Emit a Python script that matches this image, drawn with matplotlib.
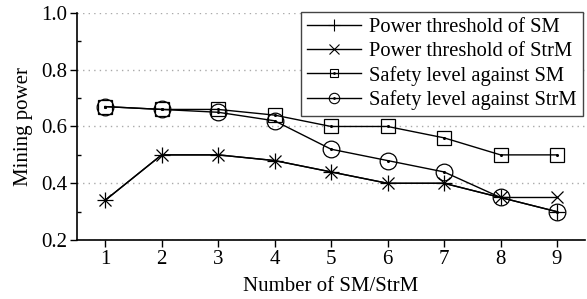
import matplotlib
matplotlib.use("Agg")
import matplotlib.pyplot as plt
from matplotlib.legend_handler import HandlerTuple
from matplotlib.lines import Line2D
from matplotlib.ticker import MultipleLocator

plt.rcParams['font.family'] = ['Liberation Serif', 'DejaVu Serif']

# data
n = [1, 2, 3, 4, 5, 6, 7, 8, 9]
thr_sm = [0.34, 0.50, 0.50, 0.48, 0.44, 0.40, 0.40, 0.35, 0.30]
thr_strm = [0.34, 0.50, 0.50, 0.48, 0.44, 0.40, 0.40, 0.35, 0.35]
safe_sm = [0.67, 0.66, 0.66, 0.64, 0.60, 0.60, 0.56, 0.50, 0.50]
safe_strm = [0.67, 0.66, 0.65, 0.62, 0.52, 0.48, 0.44, 0.35, 0.30]
labels = ["Power threshold of SM", "Power threshold of StrM",
          "Safety level against SM", "Safety level against StrM"]

fig = plt.figure(figsize=(5.87, 2.99), dpi=100)
ax = fig.add_axes([0.131, 0.197, 0.866, 0.760])

lw = 1.0
ax.plot(n, thr_sm, color='black', lw=lw, marker='+', ms=11, mew=0.9)
ax.plot(n, thr_strm, color='black', lw=lw, marker='x', ms=9, mew=0.9)
ax.plot(n, safe_sm, color='black', lw=lw, marker='s', ms=9.5, mew=0.9,
        mfc='none')
ax.plot(n, safe_strm, color='black', lw=lw, marker='o', ms=12, mew=0.9,
        mfc='none')
# little centre dots of the open markers
ax.plot(n, safe_sm, ls='none', marker='o', ms=1.2, color='black')
ax.plot(n, safe_strm, ls='none', marker='o', ms=1.2, color='black')

ax.set_xlim(0.5, 9.5)
ax.set_ylim(0.2, 1.0)
ax.set_xticks(n)
ax.yaxis.set_major_locator(MultipleLocator(0.2))
ax.yaxis.set_minor_locator(MultipleLocator(0.1))
ax.yaxis.set_major_formatter(lambda v, p: f"{v:.1f}")
ax.tick_params(axis='both', labelsize=15, direction='out', length=5, width=1,
               pad=2)
ax.tick_params(axis='y', which='minor', direction='in', length=3, width=1)
ax.grid(axis='y', which='major', color='#aaaaaa', ls=(0, (1, 3)), lw=1)

for s in ['top', 'right']:
    ax.spines[s].set_visible(False)
for s in ['left', 'bottom']:
    ax.spines[s].set_linewidth(1.2)

ax.set_xlabel("Number of SM/StrM", fontsize=15, labelpad=6)
ax.set_ylabel("Mining power", fontsize=15, labelpad=6)

# legend proxies with smaller markers, like the reference
kw = dict(color='black', lw=lw, mew=0.8)
p1 = Line2D([], [], marker='+', ms=8, **kw)
p2 = Line2D([], [], marker='x', ms=6.5, **kw)
p3 = Line2D([], [], marker='s', ms=6, mfc='none', **kw)
p4 = Line2D([], [], marker='o', ms=7.5, mfc='none', **kw)
dot = Line2D([], [], ls='none', marker='o', ms=1, color='black')
leg = ax.legend([p1, p2, (p3, dot), (p4, dot)], labels,
                handler_map={tuple: HandlerTuple(ndivide=1)},
                loc='upper right', bbox_to_anchor=(0.9955, 1.005),
                fontsize=14.8, fancybox=False, framealpha=1,
                edgecolor='#444444', handlelength=2.6, handletextpad=0.4,
                labelspacing=0.22, borderpad=0.3, borderaxespad=0.0)
leg.get_frame().set_linewidth(1.0)

fig.savefig("out.png", dpi=100)
